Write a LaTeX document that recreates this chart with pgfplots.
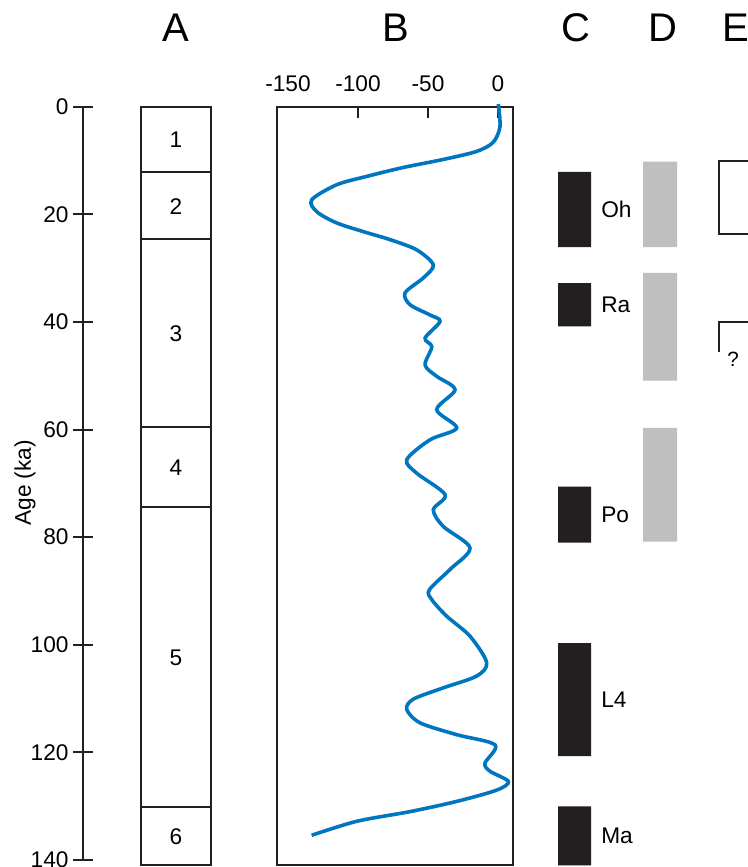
\documentclass[border=0pt]{standalone}
\usepackage{fontspec}
\setmainfont{Liberation Sans}
\usepackage{pgfplots}
\pgfplotsset{compat=1.18}
\definecolor{barblack}{RGB}{35,31,32}
\definecolor{bargray}{RGB}{191,191,191}
\definecolor{curveblue}{RGB}{0,118,192}
\newcommand{\tfont}{\fontsize{17}{19}\selectfont}
\newcommand{\bigfont}{\fontsize{30}{32}\selectfont}
\begin{document}
\begin{tikzpicture}
\useasboundingbox (0,0) rectangle (561pt,650.25pt);
% ---------- master axis: columns A, C, D, E (x in pixel units, y in ka) ----------
\begin{axis}[at={(280.5pt,325.125pt)}, anchor=center, scale only axis,
  width=561pt, height=650.25pt, xmin=0, xmax=748, ymin=-19.83, ymax=141.29,
  y dir=reverse, hide axis]
  % column headers
  \node[font=\bigfont] at (axis cs:176,-14.6) {A};
  \node[font=\bigfont] at (axis cs:396,-14.6) {B};
  \node[font=\bigfont] at (axis cs:575.5,-14.6) {C};
  \node[font=\bigfont] at (axis cs:662.5,-14.6) {D};
  \node[font=\bigfont] at (axis cs:736,-14.6) {E};
  \node[font=\tfont, rotate=90] at (axis cs:25,69.9) {Age (ka)};
  % column A: stages
  \addplot[barblack, line width=1.5pt, line cap=rect, line join=miter] coordinates {(141,0) (211,0) (211,140.92) (141,140.92) (141,0)};
  \addplot[barblack, line width=1.5pt] coordinates {(141,12.2) (211,12.2)};
  \addplot[barblack, line width=1.5pt] coordinates {(141,24.6) (211,24.6)};
  \addplot[barblack, line width=1.5pt] coordinates {(141,59.6) (211,59.6)};
  \addplot[barblack, line width=1.5pt] coordinates {(141,74.3) (211,74.3)};
  \addplot[barblack, line width=1.5pt] coordinates {(141,130.1) (211,130.1)};
  \node[font=\tfont] at (axis cs:176,6.2) {1};
  \node[font=\tfont] at (axis cs:176,18.5) {2};
  \node[font=\tfont] at (axis cs:176,42.1) {3};
  \node[font=\tfont] at (axis cs:176,67.0) {4};
  \node[font=\tfont] at (axis cs:176,102.4) {5};
  \node[font=\tfont] at (axis cs:176,135.6) {6};
  % column C: black bars
  \addplot[fill=barblack, draw=none] coordinates {(558,12.1) (591,12.1) (591,26.1) (558,26.1) (558,12.1)};
  \addplot[fill=barblack, draw=none] coordinates {(558,32.8) (591,32.8) (591,40.8) (558,40.8) (558,32.8)};
  \addplot[fill=barblack, draw=none] coordinates {(558,70.6) (591,70.6) (591,81.0) (558,81.0) (558,70.6)};
  \addplot[fill=barblack, draw=none] coordinates {(558,99.7) (591,99.7) (591,120.7) (558,120.7) (558,99.7)};
  \addplot[fill=barblack, draw=none] coordinates {(558,130.0) (591,130.0) (591,141.0) (558,141.0) (558,130.0)};
  \node[font=\tfont, anchor=west, inner sep=0pt] at (axis cs:601,19.1) {Oh};
  \node[font=\tfont, anchor=west, inner sep=0pt] at (axis cs:601,36.8) {Ra};
  \node[font=\tfont, anchor=west, inner sep=0pt] at (axis cs:601,75.8) {Po};
  \node[font=\tfont, anchor=west, inner sep=0pt] at (axis cs:601,110.2) {L4};
  \node[font=\tfont, anchor=west, inner sep=0pt] at (axis cs:601,135.5) {Ma};
  % column D: grey bars
  \addplot[fill=bargray, draw=none] coordinates {(643,10.2) (677,10.2) (677,26.1) (643,26.1) (643,10.2)};
  \addplot[fill=bargray, draw=none] coordinates {(643,30.9) (677,30.9) (677,50.9) (643,50.9) (643,30.9)};
  \addplot[fill=bargray, draw=none] coordinates {(643,59.7) (677,59.7) (677,80.8) (643,80.8) (643,59.7)};
  % column E
  \addplot[barblack, line width=1.5pt, line join=miter] coordinates {(760,10.0) (719,10.0) (719,23.7) (760,23.7)};
  \addplot[barblack, line width=1.3pt, line join=miter] coordinates {(719,45.5) (719,40.0) (760,40.0)};
  \node[font=\fontsize{15.5}{17}\selectfont] at (axis cs:733,47.0) {?};
\end{axis}
% ---------- age axis ----------
\begin{axis}[at={(62.55pt,287.74pt)}, anchor=center, scale only axis,
  width=0.1pt, height=565pt, xmin=0, xmax=1, ymin=0, ymax=140, y dir=reverse,
  hide x axis, axis y line*=left, ytick={0,20,...,140},
  tick align=center, major tick length=15pt,
  y axis line style={line width=1.5pt, barblack},
  ytick style={line width=1.5pt, barblack},
  /pgf/number format/assume math mode=true,
  yticklabel style={font=\tfont}]
\end{axis}
% ---------- B: sea level ----------
\begin{axis}[at={(296.25pt,285.86pt)}, anchor=center, scale only axis,
  width=177pt, height=568.7pt, xmin=-157.86, xmax=10.71, ymin=0, ymax=140.92,
  y dir=reverse, ytick=\empty,
  xtick={-100,-50,0}, xticklabels={-100,-50,0},
  extra x ticks={-150}, extra x tick labels={-150},
  extra x tick style={major tick length=0pt},
  xtick pos=right, xticklabel pos=right,
  tick align=inside, major tick length=8.25pt,
  axis line style={line width=1.5pt, barblack},
  tick style={line width=1.5pt, barblack},
  xticklabel style={font=\tfont, yshift=7.5pt},
  clip=false]
\addplot[curveblue, line width=2.7pt, smooth] coordinates {
(0.2,-0.5) (1.4,3.7) (-3.4,6.6) (-15.2,8.3) (-39.1,9.8) (-67.8,11.3)
(-93.8,12.95) (-115.2,14.5) (-133.1,17.3) (-129.5,19.5) (-115.2,21.6)
(-93.8,23.4) (-77.1,24.7) (-58.1,26.6) (-46.2,29.4) (-53.3,31.8)
(-66.4,34.6) (-62.8,36.8) (-48.6,38.7) (-41.4,39.9) (-52.1,43.0)
(-47.3,44.6) (-52.1,48.0) (-43.8,50.1) (-30.7,52.6) (-43.8,56.3)
(-29.5,59.7) (-48.6,61.9) (-65.2,65.6) (-58.1,68.1) (-37.8,72.1)
(-46.2,74.9) (-39.1,78.0) (-20.0,82.0) (-34.3,86.0) (-49.1,89.8)
(-47.3,91.6) (-36.6,94.7) (-20.0,98.4) (-8.1,103.3) (-15.2,105.8)
(-39.1,108.0) (-60.5,110.1) (-65.2,112.0) (-55.7,114.5) (-29.5,116.7)
(-2.1,118.6) (-9.3,122.0) (-5.7,123.5) (7.4,125.4) (-0.9,127.0)
(-29.5,129.1) (-62.8,131.0) (-100.9,132.8) (-133.1,135.4)
};
\end{axis}
\end{tikzpicture}
\end{document}
